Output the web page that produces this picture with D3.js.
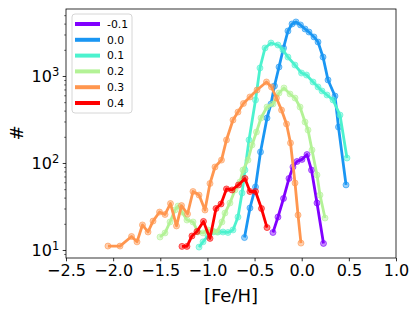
<!DOCTYPE html>
<html>
<head>
<meta charset="utf-8">
<script src="https://cdn.jsdelivr.net/npm/d3@7"></script>
<style>
html,body{margin:0;padding:0;background:#fff;}
svg{display:block;font-family:"DejaVu Sans",sans-serif;}
</style>
</head>
<body>
<svg id="chart" width="419" height="314"></svg>
<script>
// ---------- data ----------
const labels = ["-0.1", "0.0", "0.1", "0.2", "0.3", "0.4"];

const fehM01 = [-0.305,-0.252,-0.193,-0.135,-0.093,-0.050,0.003,0.056,0.104,0.162,0.231];
const nM01   = [15.9,23.9,39.1,66.4,90,104,110,125,83,34.7,11.9];

const fehP00 = [-0.607,-0.549,-0.490,-0.437,-0.368,-0.326,-0.289,-0.241,-0.193,-0.146,-0.103,-0.061,-0.013,0.035,0.077,0.130,0.173,0.226,0.279,0.353,0.390,0.470];
const nP00   = [13.9,30.4,53,134,329,477,767,1268,2100,3290,3960,4180,3860,3470,3200,2810,2460,1650,900,589,259,56];

const fehP01 = [-1.089,-1.047,-0.994,-0.941,-0.888,-0.835,-0.782,-0.729,-0.676,-0.633,-0.602,-0.559,-0.490,-0.443,-0.389,-0.326,-0.252,-0.199,-0.146,-0.072,-0.002,0.051,0.120,0.173,0.215,0.268,0.332,0.406,0.480];
const nP01   = [10.8,12.4,14.5,16.1,16.1,16.1,15.9,17.0,23.9,45.2,83,184,530,1236,2100,2395,2270,1990,1650,1337,1082,1026,853,748,673,605,530,356,114];

const fehP02 = [-1.503,-1.450,-1.397,-1.344,-1.312,-1.270,-1.217,-1.153,-1.100,-1.047,-0.994,-0.941,-0.899,-0.846,-0.814,-0.761,-0.708,-0.655,-0.623,-0.570,-0.527,-0.480,-0.432,-0.368,-0.305,-0.241,-0.188,-0.124,-0.071,-0.018,0.035,0.067,0.109,0.162,0.194,0.247];
const nP02   = [14.1,15.7,21.0,28.8,32.0,27.3,22.1,21.0,16.1,15.7,17.0,16.5,16.1,21.0,26.6,34.7,49.0,60.5,83,108,161,227,329,440,477,638,728,621,558,440,296,239,141,72.8,42.8,23.3];

const fehP03 = [-2.055,-1.927,-1.805,-1.747,-1.689,-1.630,-1.577,-1.508,-1.450,-1.392,-1.328,-1.275,-1.211,-1.153,-1.089,-1.026,-0.973,-0.920,-0.851,-0.798,-0.729,-0.676,-0.618,-0.549,-0.474,-0.374,-0.321,-0.268,-0.214,-0.161,-0.119,-0.071,-0.039,-0.008];
const nP03   = [11.1,11.1,14.3,12.4,19.4,16.1,21.5,27.3,25.6,34.2,18.9,32.4,25.9,47.0,42.8,28.8,58.1,90,108,184,312,385,483,574,690,853,748,558,406,281,170,58.9,25.2,12.0];

const fehP04 = [-1.270,-1.217,-1.164,-1.111,-1.042,-0.973,-0.909,-0.856,-0.798,-0.739,-0.671,-0.602,-0.549,-0.490,-0.427,-0.368];
const nP04   = [11.0,11.0,14.5,16.3,21.3,13.6,30.0,33.8,50.3,49.0,55.9,66.4,47.0,47.0,30.0,18.1];

const xTicks = [-2.5,-2.0,-1.5,-1.0,-0.5,0.0,0.5,1.0];
const yTicks = [10, 100, 1000];
const yTickExp = ["1", "2", "3"];

// ---------- style ----------
const colors = ["#8000ff","#1a96f3","#4cf2ce","#b3f296","#ff964f","#ff0000"];
const W = 419, H = 314;
const m = {left: 66, right: 396, top: 9, bottom: 258};

const series = [
  [fehM01, nM01], [fehP00, nP00], [fehP01, nP01],
  [fehP02, nP02], [fehP03, nP03], [fehP04, nP04]
].map((s, i) => ({label: labels[i], color: colors[i],
  pts: s[0].map((x, j) => ({x: x, y: s[1][j]}))}));

const svg = d3.select("#chart");

const x = d3.scaleLinear().domain([-2.5, 1.0]).range([m.left, m.right]);
const y = d3.scaleLog().domain([Math.pow(10, 0.908), Math.pow(10, 3.770)]).range([m.bottom, m.top]);

// clip
svg.append("defs").append("clipPath").attr("id", "clip")
  .append("rect").attr("x", m.left).attr("y", m.top)
  .attr("width", m.right - m.left).attr("height", m.bottom - m.top);

const plot = svg.append("g").attr("clip-path", "url(#clip)");
const line = d3.line().x(d => x(d.x)).y(d => y(d.y));

series.forEach(s => {
  const g = plot.append("g");
  g.append("path").datum(s.pts)
    .attr("d", line).attr("fill", "none")
    .attr("stroke", s.color).attr("stroke-width", 2.8)
    .attr("stroke-linejoin", "round").attr("stroke-linecap", "butt");
  g.selectAll("circle").data(s.pts).enter().append("circle")
    .attr("cx", d => x(d.x)).attr("cy", d => y(d.y)).attr("r", 3)
    .attr("fill", s.color).attr("fill-opacity", 0.45)
    .attr("stroke", s.color).attr("stroke-opacity", 0.6).attr("stroke-width", 1);
});

// x axis
const fmt = v => (v < 0 ? "\u2212" : "") + Math.abs(v).toFixed(1);
const xAxis = svg.append("g").attr("transform", `translate(0,${m.bottom})`)
  .call(d3.axisBottom(x).tickValues(xTicks).tickFormat(fmt).tickSize(3.3).tickPadding(3.5));
xAxis.select(".domain").remove();
xAxis.selectAll("text").attr("font-size", 16).attr("fill", "#000")
  .attr("font-family", "DejaVu Sans");
xAxis.selectAll("line").attr("stroke", "#000").attr("stroke-width", 0.8);

// y axis major
const yAxis = svg.append("g").attr("transform", `translate(${m.left},0)`)
  .call(d3.axisLeft(y).tickValues(yTicks).tickFormat(() => "").tickSize(3.3).tickPadding(3.5));
yAxis.select(".domain").remove();
yAxis.selectAll("line").attr("stroke", "#000").attr("stroke-width", 0.8);
yAxis.selectAll(".tick text").each(function(d, i) {
  const t = d3.select(this);
  t.attr("font-size", 16).attr("fill", "#000").attr("font-family", "DejaVu Sans").attr("dy", "0.36em");
  t.append("tspan").text("10");
  t.append("tspan").text(yTickExp[i]).attr("font-size", 11.5).attr("dy", "-0.55em");
});

// y minor ticks
const minor = [];
for (let e = 0; e <= 3; e++) for (let k = 2; k <= 9; k++) {
  const v = k * Math.pow(10, e);
  if (v >= y.domain()[0] && v <= y.domain()[1]) minor.push(v);
}
const yMinor = svg.append("g").attr("transform", `translate(${m.left},0)`)
  .call(d3.axisLeft(y).tickValues(minor).tickFormat(() => "").tickSize(1.8));
yMinor.select(".domain").remove();
yMinor.selectAll("line").attr("stroke", "#000").attr("stroke-width", 0.6);

// frame
svg.append("rect").attr("x", m.left).attr("y", m.top)
  .attr("width", m.right - m.left).attr("height", m.bottom - m.top)
  .attr("fill", "none").attr("stroke", "#000").attr("stroke-width", 0.8);

// labels
svg.append("text").attr("x", (m.left + m.right) / 2).attr("y", 302)
  .attr("text-anchor", "middle").attr("font-size", 18).text("[Fe/H]");
svg.append("text").attr("transform", "translate(23,133) rotate(-90)")
  .attr("text-anchor", "middle").attr("font-size", 18).text("#");

// legend
const lg = svg.append("g");
lg.append("rect").attr("x", 72).attr("y", 14).attr("width", 60).attr("height", 99)
  .attr("rx", 3).attr("fill", "#fff").attr("fill-opacity", 0.8)
  .attr("stroke", "#cccccc").attr("stroke-width", 0.8);
series.forEach((s, i) => {
  const yy = 24 + i * 15.8;
  lg.append("line").attr("x1", 75).attr("x2", 100).attr("y1", yy).attr("y2", yy)
    .attr("stroke", s.color).attr("stroke-width", 4);
  lg.append("text").attr("x", 107).attr("y", yy).attr("dy", "0.36em")
    .attr("font-size", 10.8).text(s.label);
});
</script>
</body>
</html>
